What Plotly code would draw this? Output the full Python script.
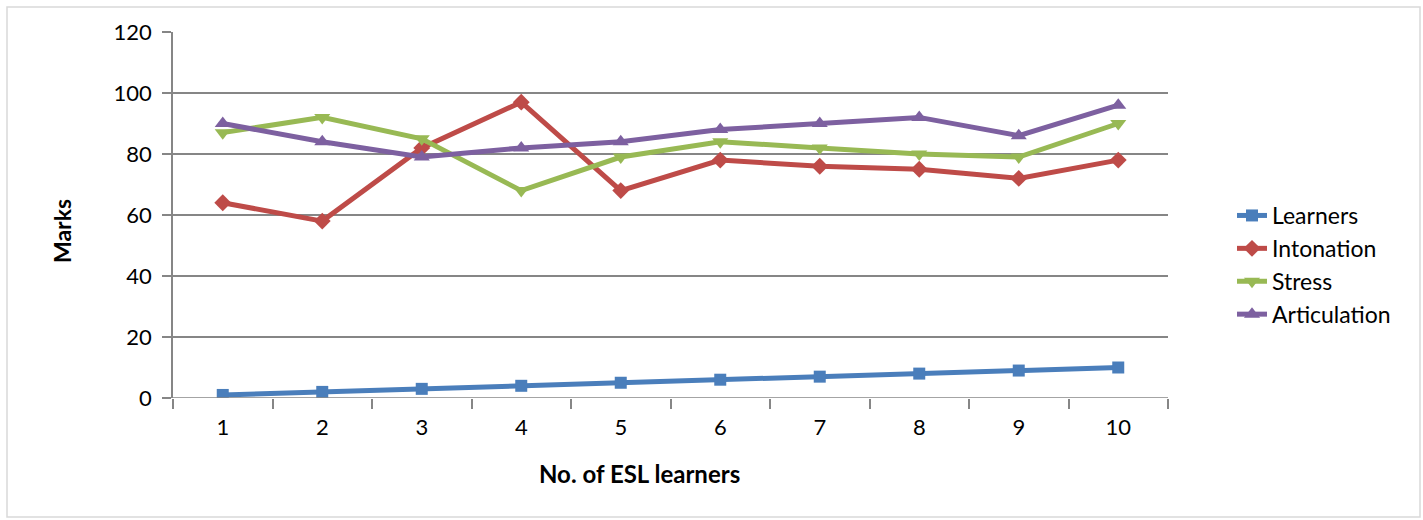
import plotly.graph_objects as go

# ESL learner scores by pronunciation component
learners = ["1", "2", "3", "4", "5", "6", "7", "8", "9", "10"]
learner_no = [1, 2, 3, 4, 5, 6, 7, 8, 9, 10]
intonation = [64, 58, 82, 97, 68, 78, 76, 75, 72, 78]
stress = [87, 92, 85, 68, 79, 84, 82, 80, 79, 90]
articulation = [90, 84, 79, 82, 84, 88, 90, 92, 86, 96]
y_ticks = [0, 20, 40, 60, 80, 100, 120]

FONT = "Lato"

series = [
    ("Learners", learner_no, "#4a7ebb", "square", 12),
    ("Intonation", intonation, "#be4b48", "diamond", 13),
    ("Stress", stress, "#98b954", "triangle-down", 14),
    ("Articulation", articulation, "#7d60a0", "triangle-up", 14),
]

fig = go.Figure()
for name, vals, color, symbol, msize in series:
    fig.add_trace(go.Scatter(
        x=learners, y=vals, name=name, mode="lines+markers",
        line=dict(color=color, width=5),
        marker=dict(symbol=symbol, size=msize, color=color),
    ))

W, H = 1423, 520
L, R, T, B = 173, 255, 32, 122
pw, ph = W - L - R, H - T - B


def px(x):
    return (x - L) / pw


def py(y):
    return (H - B - y) / ph


fig.update_layout(
    width=W, height=H,
    margin=dict(l=L, r=R, t=T, b=B, autoexpand=False),
    paper_bgcolor="white", plot_bgcolor="white",
    font=dict(family=FONT, size=22, color="black"),
    showlegend=True,
    legend=dict(
        x=px(1232), y=py(194), xanchor="left", yanchor="top",
        font=dict(family=FONT, size=23, color="black"),
        itemsizing="trace", tracegroupgap=0,
        bgcolor="rgba(0,0,0,0)",
    ),
    xaxis=dict(
        type="category", tickson="boundaries", range=[-0.5, 9.5],
        showgrid=False, showline=False, zeroline=False,
        ticks="outside", ticklen=10, tickcolor="#868686", tickwidth=1.5,
        tickfont=dict(size=22, family=FONT), ticklabelstandoff=14,
    ),
    yaxis=dict(
        range=[0, 120], tickvals=y_ticks,
        showgrid=True, gridcolor="#868686", gridwidth=1.5,
        zeroline=False, showline=True, linecolor="#868686", linewidth=1.5,
        ticks="outside", ticklen=9, tickcolor="#868686", tickwidth=1.5,
        tickfont=dict(size=22, family=FONT), ticklabelstandoff=6,
    ),
    annotations=[
        dict(text="<b>Marks</b>", textangle=-90, xref="paper", yref="paper",
             x=px(62), y=py(231), xanchor="center", yanchor="middle",
             showarrow=False,
             font=dict(size=23, family=FONT, color="black")),
        dict(text="<b>No. of ESL learners</b>", xref="paper", yref="paper",
             x=px(639), y=py(473), xanchor="center", yanchor="middle",
             showarrow=False,
             font=dict(size=24, family=FONT, color="black")),
    ],
    shapes=[
        dict(type="rect", xref="paper", yref="paper",
             x0=px(7), x1=px(1420), y0=py(517), y1=py(7),
             line=dict(color="#d9d9d9", width=1.5), layer="below"),
        dict(type="line", xref="paper", yref="y",
             x0=0, x1=1, y0=0, y1=0,
             line=dict(color="#868686", width=1.5)),
    ],
)

fig.write_html("out.html")
